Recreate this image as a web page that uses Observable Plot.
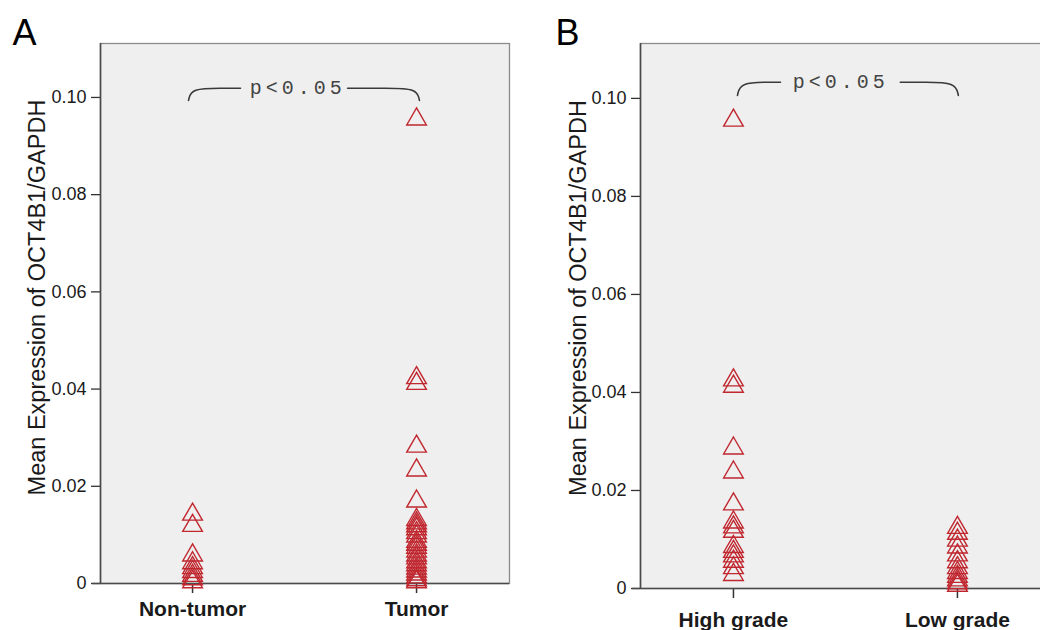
<!DOCTYPE html>
<html><head><meta charset="utf-8">
<script src="https://cdn.jsdelivr.net/npm/d3@7"></script>
<script src="https://cdn.jsdelivr.net/npm/@observablehq/plot@0.6"></script>
<style>
html,body{margin:0;padding:0;background:#fff;}
#wrap{display:flex;width:1040px;height:630px;overflow:hidden;}
#wrap>div{flex:none;}
</style></head><body><div id="wrap"><div id="a"></div><div id="b"></div></div>
<script>
// ---- data ----
const yTicks = [0, 0.02, 0.04, 0.06, 0.08, 0.10];
const categoriesA = ["Non-tumor", "Tumor"];
const categoriesB = ["High grade", "Low grade"];
const nonTumor = [0.0142, 0.0119, 0.0058, 0.0042, 0.0032, 0.0024, 0.0016, 0.0009, 0.0003];
const tumor = [0.0955, 0.0423, 0.0411, 0.0282, 0.0233, 0.0169, 0.0131, 0.0124, 0.0118, 0.0112, 0.0104, 0.0097,
               0.0086, 0.0080, 0.0074, 0.0066, 0.0058, 0.0052, 0.0044, 0.0038, 0.0031, 0.0025, 0.0019, 0.0013, 0.0007, 0.0003];
const highGrade = [0.0955, 0.0425, 0.0412, 0.0286, 0.0237, 0.0172, 0.0135, 0.0125, 0.0116, 0.0085, 0.0075, 0.0066, 0.0055, 0.0042, 0.0028];
const lowGrade = [0.0124, 0.0112, 0.0098, 0.0084, 0.0068, 0.0054, 0.0042, 0.0032, 0.0024, 0.0017, 0.0011, 0.0006];
const yTitle = "Mean Expression of OCT4B1/GAPDH";
const pLabel = "p<0.05";

function panel(o) {
  const data = o.series.flatMap((vals, i) => vals.map(v => ({c: i, v})));
  const b = o.br;
  const bracket = [
    {s: "L", x: b.left, y: b.end}, {s: "L", x: b.left + 0.012, y: b.level},
    {s: "L", x: b.left + 0.15, y: b.level}, {s: "L", x: b.gapL, y: b.level},
    {s: "R", x: b.gapR, y: b.level}, {s: "R", x: b.right - 0.15, y: b.level},
    {s: "R", x: b.right - 0.012, y: b.level}, {s: "R", x: b.right, y: b.end}
  ];
  const svg = Plot.plot({
    width: o.width, height: 630,
    marginLeft: o.mL, marginRight: o.mR, marginTop: o.mT, marginBottom: o.mB,
    x: {domain: o.xDom, axis: null},
    y: {domain: [0, o.yMax], axis: null},
    style: {fontFamily: "'Liberation Sans', Arial, sans-serif", background: "transparent", color: "#1a1a1a", overflow: "visible"},
    marks: [
      Plot.frame({fill: "#efefef", stroke: "#8a8a8a", strokeWidth: 1.3}),
      Plot.axisY({ticks: yTicks, tickFormat: d => d === 0 ? "0" : d.toFixed(2), tickSize: 9, tickPadding: 5,
                  fontSize: 18, label: null, stroke: "#333", strokeWidth: 1.3}),
      Plot.axisX({ticks: [0, 1], tickFormat: i => o.cats[i], tickSize: 10, tickPadding: o.xPad,
                  fontSize: 21, fontWeight: "bold", label: null, stroke: "#333", strokeWidth: 1.5}),
      Plot.ruleX([o.xDom[0]], {stroke: "#4a4a4a", strokeWidth: 1.6}),
      Plot.ruleY([0], {x1: o.xDom[0] - 0.035, x2: o.xDom[1], stroke: "#4a4a4a", strokeWidth: 1.6}),
      Plot.dot(data, {x: "c", y: "v", symbol: "triangle", r: 7.3, stroke: "#c0272f", strokeWidth: 1.4, fill: "none"}),
      Plot.line(bracket, {x: "x", y: "y", z: "s", curve: "basis", stroke: "#3a3a3a", strokeWidth: 1.6}),
      Plot.text([{t: pLabel, x: b.tx, y: b.ty}], {x: "x", y: "y", text: "t", lineAnchor: "bottom",
                  fontFamily: "'Liberation Mono', 'Courier New', monospace", fontSize: 20, fill: "#444", className: "pval"}),
      Plot.text([yTitle], {frameAnchor: "left", textAnchor: "middle", rotate: -90, dx: o.titleDx, dy: o.titleDy,
                  fontSize: 23.5, fill: "#1a1a1a"}),
      Plot.text([o.letter], {frameAnchor: "top-left", dx: o.letterDx, dy: 1, textAnchor: "start", lineAnchor: "bottom",
                  fontSize: 36, fill: "#000"})
    ]
  });
  d3.select(svg).selectAll(".pval text").style("letter-spacing", "4px");
  return svg;
}

document.getElementById("a").appendChild(panel({
  cats: categoriesA, series: [nonTumor, tumor], letter: "A",
  width: 520, mL: 100, mR: 11, mT: 43, mB: 47,
  xDom: [-0.411, 1.415], yMax: 0.1111, xPad: 8,
  titleDx: -63, titleDy: -16, letterDx: -88,
  br: {left: -0.018, right: 1.013, level: 0.1019, end: 0.0994, gapL: 0.214, gapR: 0.692, tx: 0.47, ty: 0.1008}
}));
document.getElementById("b").appendChild(panel({
  cats: categoriesB, series: [highGrade, lowGrade], letter: "B",
  width: 540, mL: 120, mR: 11, mT: 43, mB: 42,
  xDom: [-0.415, 1.411], yMax: 0.1112, xPad: 14,
  titleDx: -62, titleDy: -18, letterDx: -85,
  br: {left: 0.018, right: 1.004, level: 0.1033, end: 0.1006, gapL: 0.21, gapR: 0.745, tx: 0.479, ty: 0.1022}
}));
</script></body></html>
